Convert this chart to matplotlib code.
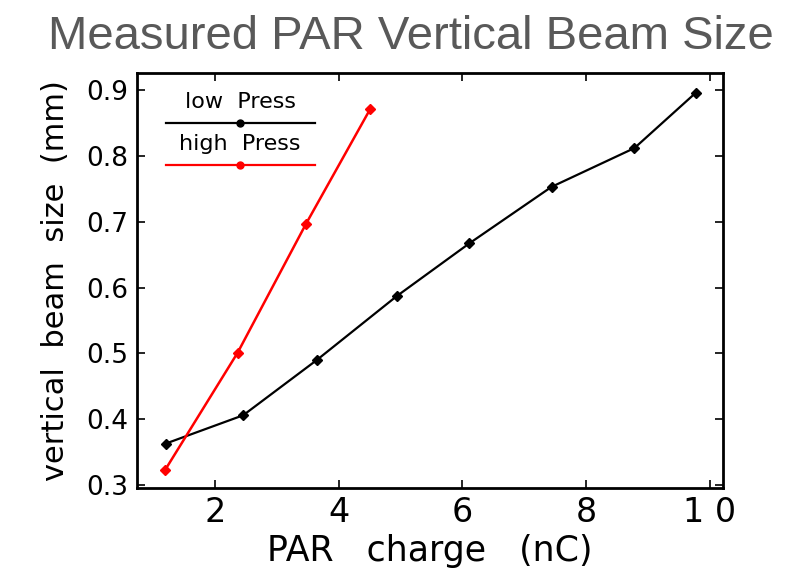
import matplotlib

matplotlib.use("Agg", force=True)
from matplotlib import pyplot as plt

# low pressure series
low_charge = [1.21, 2.46, 3.65, 4.94, 6.11, 7.44, 8.78, 9.77]
low_size = [0.363, 0.406, 0.490, 0.587, 0.667, 0.753, 0.812, 0.896]

# high pressure series
high_charge = [1.20, 2.37, 3.47, 4.51]
high_size = [0.323, 0.501, 0.696, 0.871]

x_ticks = [2, 4, 6, 8, 10]
x_tick_labels = ["2", "4", "6", "8", "1 0"]
y_ticks = [0.3, 0.4, 0.5, 0.6, 0.7, 0.8, 0.9]

fig = plt.figure(figsize=(7.96, 5.75), dpi=100)
ax = fig.add_axes([0.1721, 0.1513, 0.7362, 0.7217])

ax.plot(low_charge, low_size, color="black", lw=1.6, marker="D", ms=5, mec="black", mfc="black")
ax.plot(high_charge, high_size, color="#ff0000", lw=1.8, marker="D", ms=5, mec="#ff0000", mfc="#ff0000")

ax.set_xlim(0.745, 10.21)
ax.set_ylim(0.2955, 0.926)
ax.set_xticks(x_ticks)
ax.set_xticklabels(x_tick_labels, fontsize=24)
ax.set_yticks(y_ticks)
ax.set_yticklabels([f"{v:.1f}" for v in y_ticks], fontsize=19)
ax.tick_params(direction="in", length=6, width=1.2, top=True, right=True, pad=6)
for spine in ax.spines.values():
    spine.set_linewidth(2.0)

ax.set_xlabel("PAR   charge   (nC)", fontsize=25, labelpad=3)
ax.set_ylabel("vertical  beam  size  (mm)", fontsize=22, labelpad=12)

# hand-drawn legend in the upper left corner
legend_x0, legend_x1 = 0.049, 0.303
legend_mid = (legend_x0 + legend_x1) / 2
entries = [("low  Press", "black", 0.930, 0.880), ("high  Press", "#ff0000", 0.829, 0.778)]
for label, color, text_y, line_y in entries:
    ax.text(legend_mid, text_y, label, transform=ax.transAxes, ha="center", va="center", fontsize=16)
    ax.plot([legend_x0, legend_x1], [line_y, line_y], transform=ax.transAxes, color=color, lw=1.6)
    ax.plot([legend_mid], [line_y], transform=ax.transAxes, color=color, marker="o", ms=5)

fig.text(0.5157, 0.936, "Measured PAR Vertical Beam Size", ha="center", va="center",
         fontsize=34, color="#595959", family="Liberation Sans")

fig.savefig("out.png", dpi=100)
